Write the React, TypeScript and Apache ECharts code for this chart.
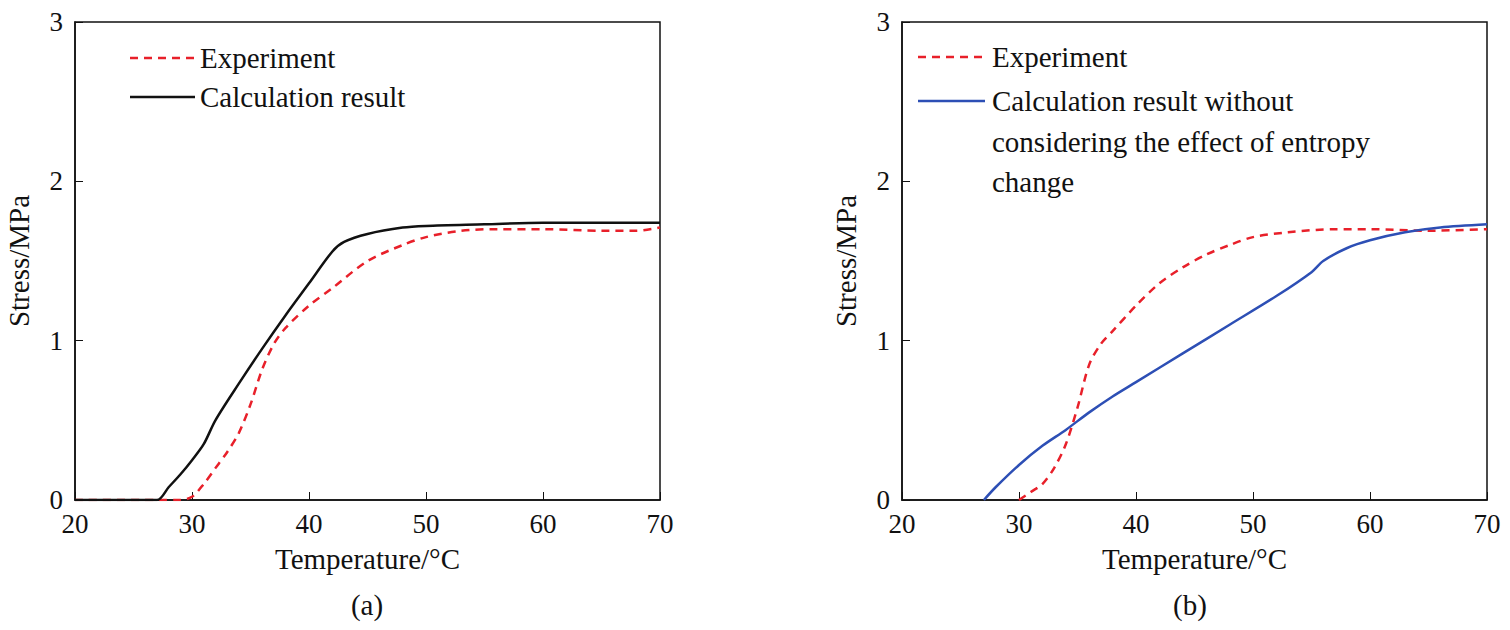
import React, { useEffect, useRef } from "react";
import * as echarts from "echarts";

const expA: number[][] = [[20,0],[27,0],[29,0],[30,0.02],[31,0.1],[32,0.2],[33,0.3],[34,0.42],[35,0.6],[36,0.82],[37,0.98],[38,1.08],[40,1.22],[42,1.33],[45,1.5],[48,1.6],[50,1.65],[53,1.69],[56,1.7],[60,1.7],[65,1.69],[68,1.69],[70,1.71]];
const calcA: number[][] = [[20,0],[27,0],[28,0.08],[29,0.16],[30,0.25],[31,0.35],[32,0.5],[34,0.73],[36,0.95],[38,1.16],[40,1.36],[42,1.56],[43,1.62],[45,1.67],[48,1.71],[50,1.72],[55,1.73],[60,1.74],[70,1.74]];
const expB: number[][] = [[30,0],[31,0.05],[32,0.1],[33,0.2],[34,0.35],[35,0.58],[36,0.85],[37,0.98],[38,1.06],[40,1.22],[42,1.36],[44,1.46],[46,1.54],[48,1.6],[50,1.65],[53,1.68],[57,1.7],[60,1.7],[65,1.69],[70,1.7]];
const calcB: number[][] = [[27,0],[28,0.08],[30,0.22],[32,0.34],[34,0.44],[36,0.55],[38,0.65],[40,0.74],[44,0.92],[48,1.1],[52,1.28],[55,1.43],[56,1.5],[58,1.58],[60,1.63],[63,1.68],[66,1.71],[70,1.73]];

const F = "Liberation Serif";

export default function App() {
  const ref = useRef<HTMLDivElement>(null);
  useEffect(() => {
    const chart = echarts.init(ref.current!, null, { renderer: "svg" });
    const xAx = (i: number) => ({
      type: "value", gridIndex: i, min: 20, max: 70, interval: 10,
      name: "Temperature/°C", nameLocation: "middle", nameGap: 44,
      nameTextStyle: { fontFamily: F, fontSize: 29, color: "#111" },
      axisLine: { lineStyle: { color: "#111", width: 1.5 } },
      axisTick: { inside: true, length: 8, lineStyle: { color: "#111" } },
      axisLabel: { fontFamily: F, fontSize: 27, color: "#111", margin: 10 },
      splitLine: { show: false },
    });
    const yAx = (i: number) => ({
      type: "value", gridIndex: i, min: 0, max: 3, interval: 1,
      name: "Stress/MPa", nameLocation: "middle", nameGap: 42,
      nameTextStyle: { fontFamily: F, fontSize: 29, color: "#111" },
      axisLine: { lineStyle: { color: "#111", width: 1.5 } },
      axisTick: { inside: true, length: 8, lineStyle: { color: "#111" } },
      axisLabel: { fontFamily: F, fontSize: 27, color: "#111", margin: 12 },
      splitLine: { show: false },
    });
    const ser = (d: number[][], i: number, color: string, dashed: boolean) => ({
      type: "line", xAxisIndex: i, yAxisIndex: i, data: d, symbol: "none", smooth: 0.3,
      lineStyle: { color, width: 2.5, type: dashed ? [8, 6] : "solid" },
    });
    const txt = (x: number, y: number, t: string, center = false) => ({
      type: "text", x, y, style: { text: t, fontFamily: F, fontSize: 29, fill: "#111", textAlign: center ? "center" : "left", textVerticalAlign: "middle" },
    });
    const ln = (x1: number, x2: number, y: number, color: string, dashed: boolean) => ({
      type: "line", shape: { x1, y1: y, x2, y2: y }, style: { stroke: color, lineWidth: 2.5, lineDash: dashed ? [8, 6] : null },
    });
    chart.setOption({
      animation: false,
      grid: [
        { left: 75, width: 585, top: 22, height: 478, show: true, borderColor: "#111", borderWidth: 1.5 },
        { left: 902, width: 585, top: 22, height: 478, show: true, borderColor: "#111", borderWidth: 1.5 },
      ],
      xAxis: [xAx(0), xAx(1)],
      yAxis: [yAx(0), yAx(1)],
      series: [ser(expA, 0, "#e8202a", true), ser(calcA, 0, "#111", false), ser(expB, 1, "#e8202a", true), ser(calcB, 1, "#2d4fb5", false)],
      graphic: [
        ln(130, 195, 58, "#e8202a", true), txt(200, 58, "Experiment"),
        ln(130, 195, 97, "#111", false), txt(200, 97, "Calculation result"),
        ln(918, 985, 57, "#e8202a", true), txt(992, 57, "Experiment"),
        ln(918, 985, 101, "#2d4fb5", false), txt(992, 101, "Calculation result without"),
        txt(992, 142, "considering the effect of entropy"), txt(992, 182, "change"),
        txt(367, 605, "(a)", true), txt(1190, 605, "(b)", true),
      ],
    });
    return () => chart.dispose();
  }, []);
  return <div ref={ref} style={{ position: "fixed", left: 0, top: 0, width: 1510, height: 630, background: "#fff" }} />;
}
